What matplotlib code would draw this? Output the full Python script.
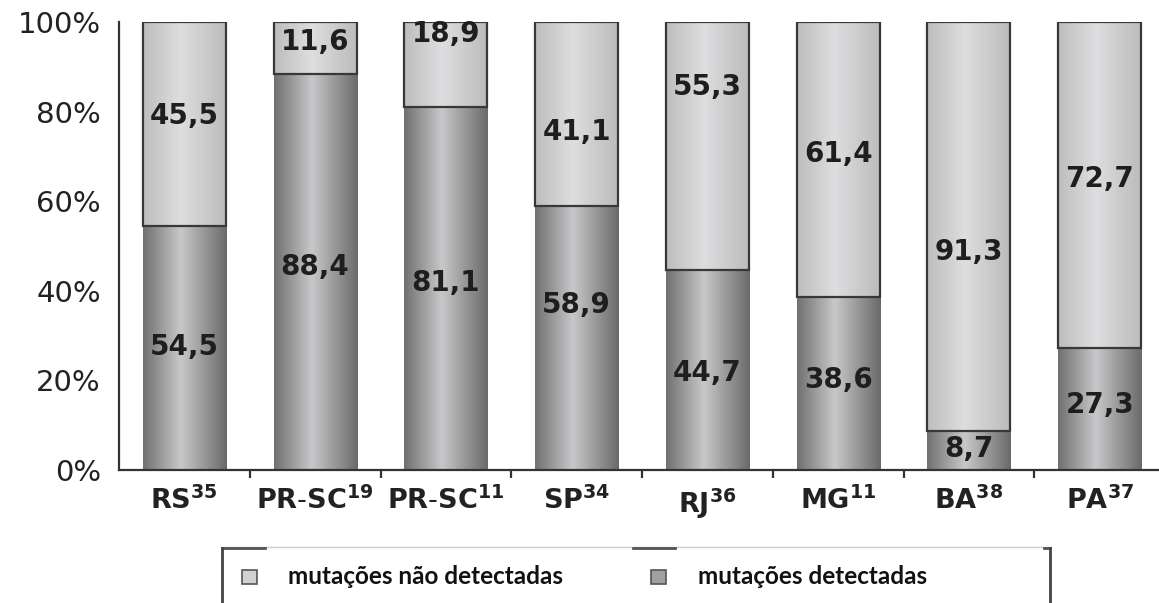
import numpy as np
import matplotlib
matplotlib.use("Agg")
import matplotlib.pyplot as plt
from matplotlib.colors import LinearSegmentedColormap
from matplotlib.patches import Rectangle
from matplotlib.lines import Line2D

plt.rcParams['font.family'] = ['DejaVu Sans']
plt.rcParams['mathtext.fontset'] = 'custom'
plt.rcParams['mathtext.rm'] = 'DejaVu Sans'
plt.rcParams['mathtext.bf'] = 'DejaVu Sans:bold'

# dados por estado (referencia no expoente)
estados = ['RS', 'PR-SC', 'PR-SC', 'SP', 'RJ', 'MG', 'BA', 'PA']
refs = ['35', '19', '11', '34', '36', '11', '38', '37']
detectadas = [54.5, 88.4, 81.1, 58.9, 44.7, 38.6, 8.7, 27.3]
nao_detectadas = [45.5, 11.6, 18.9, 41.1, 55.3, 61.4, 91.3, 72.7]

# altura (em %) onde vai cada rotulo
pos_rot_nao = [79.0, 95.5, 97.3, 75.4, 85.5, 70.5, 48.7, 65.0]
pos_rot_det = [27.5, 45.3, 41.7, 36.8, 21.7, 20.1, 4.6, 14.5]

W, H = 1159, 603
fig = plt.figure(figsize=(W / 100, H / 100), dpi=100)
ax = fig.add_axes([119 / W, 133 / H, (1165 - 119) / W, 448 / H])

cm_escuro = LinearSegmentedColormap.from_list(
    'escuro', [(0, '#707070'), (0.45, '#c8c8ca'), (1, '#6a6a6a')])
cm_claro = LinearSegmentedColormap.from_list(
    'claro', [(0, '#bdbdbd'), (0.45, '#dedee0'), (1, '#bbbbbb')])
grad = np.linspace(0, 1, 256).reshape(1, -1)

x = np.arange(len(estados))
larg = 0.635

b_det = ax.bar(x, detectadas, width=larg, color='none', edgecolor='none')
b_nao = ax.bar(x, nao_detectadas, width=larg, bottom=detectadas,
               facecolor='none', edgecolor='#383838', linewidth=1.6, zorder=3)

# preenchimento com gradiente (efeito cilindro)
for barras, cmap in ((b_det, cm_escuro), (b_nao, cm_claro)):
    for p in barras:
        x0, y0 = p.get_x(), p.get_y()
        ax.imshow(grad, cmap=cmap, aspect='auto', zorder=1,
                  extent=(x0, x0 + p.get_width(), y0, y0 + p.get_height()))

for i in range(len(estados)):
    ax.text(x[i], pos_rot_nao[i], f'{nao_detectadas[i]:.1f}'.replace('.', ','),
            ha='center', va='center', fontsize=20, fontweight='bold',
            color='#1e1e1e', zorder=4)
    ax.text(x[i], pos_rot_det[i], f'{detectadas[i]:.1f}'.replace('.', ','),
            ha='center', va='center', fontsize=20, fontweight='bold',
            color='#1e1e1e', zorder=4)

ax.set_xlim(-0.5, 7.5)
ax.set_ylim(0, 100)
ax.spines['top'].set_visible(False)
ax.spines['right'].set_visible(False)
for s in ('left', 'bottom'):
    ax.spines[s].set_color('#333333')
    ax.spines[s].set_linewidth(1.6)

ax.set_yticks([0, 20, 40, 60, 80, 100])
ax.set_yticklabels(['0%', '20%', '40%', '60%', '80%', '100%'])
ax.tick_params(axis='y', length=0, pad=13, labelsize=21, labelcolor='#222222')

ax.set_xticks(x)
ax.set_xticklabels([rf'$\mathbf{{{e}}}^{{\mathbf{{{r}}}}}$'.replace('-', r'\text{-}')
                    for e, r in zip(estados, refs)])
ax.tick_params(axis='x', length=0, pad=12, labelsize=19.5, labelcolor='#222222')
ax.set_xticks(x[:-1] + 0.5, minor=True)
ax.tick_params(axis='x', which='minor', length=6, width=1.6, color='#333333',
               direction='out')

# legenda
fx = lambda px: px / W
fy = lambda py: 1 - py / H
fig.add_artist(Line2D([fx(222), fx(1050)], [fy(547), fy(547)],
                      color='#cccccc', lw=1))
for a, b in ((222, 265), (633, 675), (1044, 1050)):
    fig.add_artist(Line2D([fx(a), fx(b)], [fy(548), fy(548)],
                          color='#555555', lw=2))
for xv in (222, 1050):
    fig.add_artist(Line2D([fx(xv), fx(xv)], [fy(548), fy(603)],
                          color='#444444', lw=2))

itens = [('mutações não detectadas', '#d2d2d4', 242, 288),
         ('mutações detectadas', '#a0a0a2', 651, 698)]
for rot, cor, mx, tx in itens:
    fig.add_artist(Rectangle((fx(mx), fy(584)), 15 / W, 14 / H, transform=fig.transFigure,
                             facecolor=cor, edgecolor='#555555', lw=1.2))
    fig.text(fx(tx), fy(577), rot, ha='left', va='center', fontsize=17.5,
             fontweight='bold', family=['Lato', 'DejaVu Sans'], color='#111111')

fig.savefig('out.png', dpi=100)
